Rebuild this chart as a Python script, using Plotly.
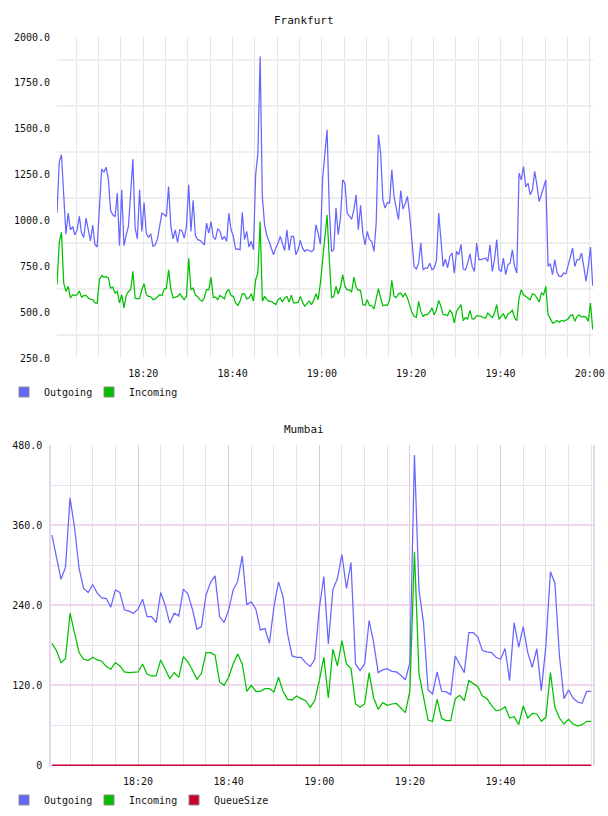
import pandas as pd
import plotly.graph_objects as go

# ---------------- data ----------------
fr_out = [1040, 1318, 1358, 1131, 925, 1040, 949, 967, 922, 947,
          1022, 931, 907, 1013, 940, 889, 974, 869, 855, 1100,
          1280, 1263, 1290, 1225, 1054, 1031, 1020, 1149, 862, 1167,
          862, 920, 967, 1149, 1334, 958, 900, 1167, 940, 1098,
          931, 907, 927, 858, 867, 898, 967, 1040, 1031, 1022,
          1185, 967, 900, 949, 880, 949, 944, 904, 967, 1194,
          940, 1110, 918, 895, 891, 876, 867, 985, 931, 993,
          907, 898, 955, 942, 895, 913, 886, 1040, 949, 913,
          844, 845, 840, 1044, 895, 940, 855, 886, 840, 1250,
          1367, 1893, 1131, 975, 916, 886, 844, 813, 849, 875,
          913, 876, 836, 949, 836, 913, 913, 813, 840, 891,
          849, 831, 840, 836, 829, 840, 976, 931, 870, 1230,
          1385, 1494, 1058, 831, 840, 1067, 922, 1013, 1221, 1203,
          1040, 1022, 1007, 1058, 1140, 949, 1082, 931, 867, 940,
          895, 886, 831, 985, 1467, 1367, 1112, 1067, 1098, 1094,
          1276, 1131, 1067, 1004, 1163, 1062, 1091, 1131, 1031, 876,
          749, 735, 767, 876, 731, 740, 740, 767, 731, 740,
          782, 1040, 895, 749, 789, 742, 804, 822, 713, 831,
          813, 870, 735, 731, 767, 818, 749, 722, 876, 786,
          786, 791, 795, 777, 867, 722, 786, 895, 731, 722,
          795, 704, 758, 767, 840, 749, 713, 1258, 1221, 1294,
          1182, 1203, 1140, 1167, 1267, 1194, 1103, 1140, 1185, 1221,
          749, 764, 704, 786, 717, 695, 695, 713, 709, 758,
          795, 849, 749, 786, 786, 822, 749, 668, 749, 855,
          644]

fr_in = [649, 880, 935, 659, 613, 640, 577, 595, 590, 595,
         616, 582, 590, 591, 577, 570, 568, 550, 548, 677,
         699, 691, 693, 687, 631, 637, 604, 613, 550, 595,
         523, 590, 613, 622, 722, 577, 572, 575, 622, 655,
         595, 586, 584, 568, 572, 584, 595, 590, 626, 629,
         731, 626, 577, 582, 586, 600, 586, 568, 586, 793,
         622, 631, 593, 584, 568, 559, 577, 624, 622, 691,
         580, 582, 568, 591, 582, 572, 613, 622, 590, 586,
         550, 537, 559, 600, 600, 572, 577, 600, 561, 677,
         713, 994, 559, 586, 568, 559, 559, 550, 541, 568,
         577, 555, 577, 586, 555, 593, 550, 550, 553, 586,
         553, 532, 544, 561, 541, 564, 600, 568, 659, 786,
         931, 1030, 786, 577, 586, 640, 599, 637, 704, 640,
         622, 622, 610, 691, 637, 619, 619, 541, 537, 568,
         537, 535, 517, 568, 628, 577, 535, 539, 537, 564,
         673, 586, 579, 600, 604, 584, 602, 577, 541, 499,
         477, 472, 559, 504, 477, 486, 486, 501, 523, 486,
         513, 564, 532, 486, 486, 481, 510, 495, 441, 504,
         523, 541, 453, 470, 463, 510, 463, 463, 481, 481,
         477, 470, 468, 495, 484, 470, 495, 541, 461, 477,
         493, 463, 490, 497, 510, 470, 453, 577, 622, 595,
         586, 581, 568, 600, 595, 577, 555, 604, 595, 640,
         486, 466, 441, 444, 455, 444, 455, 450, 459, 463,
         481, 486, 450, 477, 484, 473, 477, 473, 450, 550,
         405]

mu_out = [345, 313, 279, 297, 401, 356, 295, 265, 259, 271,
          258, 251, 250, 237, 263, 259, 233, 231, 228, 234,
          249, 223, 223, 214, 259, 240, 213, 228, 224, 264,
          257, 234, 204, 208, 255, 274, 284, 223, 214, 233,
          263, 276, 314, 241, 245, 234, 203, 205, 183, 238,
          275, 253, 197, 164, 162, 162, 154, 148, 159, 235,
          283, 182, 263, 280, 316, 265, 304, 152, 142, 152,
          217, 184, 139, 143, 145, 141, 140, 135, 128, 154,
          465, 263, 214, 113, 107, 140, 111, 110, 106, 164,
          152, 139, 199, 199, 192, 172, 170, 169, 162, 159,
          175, 127, 214, 177, 208, 169, 147, 175, 112, 179,
          290, 273, 164, 100, 113, 101, 95, 93, 111, 111]

mu_in = [183, 172, 154, 160, 228, 197, 169, 159, 157, 162,
         158, 156, 148, 144, 154, 149, 140, 139, 140, 140,
         152, 137, 134, 134, 158, 144, 130, 139, 132, 163,
         155, 143, 129, 138, 169, 169, 165, 125, 120, 132,
         152, 167, 152, 111, 120, 111, 111, 115, 115, 110,
         132, 111, 99, 98, 104, 100, 97, 87, 97, 127,
         162, 101, 174, 149, 187, 152, 145, 92, 87, 92,
         139, 101, 84, 94, 90, 92, 93, 86, 79, 112,
         320, 137, 102, 68, 66, 99, 70, 67, 67, 100,
         105, 97, 127, 122, 118, 104, 100, 90, 82, 83,
         88, 71, 73, 61, 89, 71, 78, 77, 66, 72,
         139, 87, 71, 62, 69, 62, 59, 61, 66, 66]

mu_queue = [0] * len(mu_out)

fr_start = "2013-05-14 18:00:40"
mu_start = "2013-05-14 18:01:00"
fr_time = pd.date_range(fr_start, periods=len(fr_out), freq="30s")
mu_time = pd.date_range(mu_start, periods=len(mu_out), freq="1min")

fr_yticks = [250, 500, 750, 1000, 1250, 1500, 1750, 2000]
fr_ylabels = [f"{v:.1f}" for v in fr_yticks]
mu_yticks = [0, 120, 240, 360, 480]
mu_ylabels = ["0", "120.0", "240.0", "360.0", "480.0"]
fr_xticks = ["2013-05-14 18:20", "2013-05-14 18:40", "2013-05-14 19:00",
             "2013-05-14 19:20", "2013-05-14 19:40", "2013-05-14 20:00"]
mu_xticks = fr_xticks[:5]
x_labels = ["18:20", "18:40", "19:00", "19:20", "19:40", "20:00"]

# ---------------- style ----------------
BLUE = "#6666ff"
GREEN = "#00c000"
RED = "#cc0033"
FONT = "DejaVu Sans Mono"
W, H = 608, 816

fig = go.Figure()

# Frankfurt
fig.add_trace(go.Scatter(x=fr_time, y=fr_out, mode="lines", line=dict(color=BLUE, width=1.25),
                         xaxis="x", yaxis="y", showlegend=False, hoverinfo="skip"))
fig.add_trace(go.Scatter(x=fr_time, y=fr_in, mode="lines", line=dict(color=GREEN, width=1.25),
                         xaxis="x", yaxis="y", showlegend=False, hoverinfo="skip"))
# Mumbai
fig.add_trace(go.Scatter(x=mu_time, y=mu_out, mode="lines", line=dict(color=BLUE, width=1.25),
                         xaxis="x2", yaxis="y2", showlegend=False, hoverinfo="skip"))
fig.add_trace(go.Scatter(x=mu_time, y=mu_in, mode="lines", line=dict(color=GREEN, width=1.25),
                         xaxis="x2", yaxis="y2", showlegend=False, hoverinfo="skip"))
fig.add_trace(go.Scatter(x=mu_time, y=mu_queue, mode="lines", line=dict(color=RED, width=2),
                         xaxis="x2", yaxis="y2", showlegend=False, hoverinfo="skip"))

# legend entries (square swatches)
def swatch(name, color, legend, xa, ya, lw=None):
    return go.Scatter(x=[None], y=[None], mode="markers", name=name, legend=legend,
                      legendwidth=lw,
                      marker=dict(symbol="square", size=10, color=color,
                                  line=dict(color="#888888", width=1)),
                      xaxis=xa, yaxis=ya)

fig.add_trace(swatch("Outgoing", BLUE, "legend", "x", "y"))
fig.add_trace(swatch("Incoming", GREEN, "legend", "x", "y", 60))
fig.add_trace(swatch("Outgoing", BLUE, "legend2", "x2", "y2"))
fig.add_trace(swatch("Incoming", GREEN, "legend2", "x2", "y2"))
fig.add_trace(swatch("QueueSize", RED, "legend2", "x2", "y2", 70))

tickfont = dict(family=FONT, size=10, color="#111111")

fig.update_layout(
    template="none",
    width=W, height=H, autosize=False,
    margin=dict(l=0, r=0, t=0, b=0, autoexpand=False),
    paper_bgcolor="white", plot_bgcolor="white",
    font=dict(family=FONT, size=10, color="#111111"),
    xaxis=dict(domain=[57 / W, 593 / W], anchor="y", type="date", automargin=False,
               range=["2013-05-14 18:00:40", "2013-05-14 20:00:44"],
               tickmode="array", tickvals=fr_xticks, ticktext=x_labels,
               showgrid=True, gridcolor="#e6e6e6", gridwidth=1,
               minor=dict(tick0="2013-05-14 18:00", dtick=300000, showgrid=True,
                          gridcolor="#e6e6e6", gridwidth=1, ticks=""),
               ticks="", showline=False, zeroline=False, tickfont=tickfont,
               ticklabelstandoff=8),
    yaxis=dict(domain=[1 - 358 / H, 1 - 37 / H], anchor="x", automargin=False,
               range=[250, 2000], tickmode="array", tickvals=fr_yticks, ticktext=fr_ylabels,
               showgrid=False,
               minor=dict(tickmode="linear", tick0=125, dtick=250, showgrid=True,
                          gridcolor="#eeeeee", gridwidth=1.6, ticks=""),
               ticks="", showline=False, zeroline=False, tickfont=tickfont,
               ticklabelstandoff=6),
    xaxis2=dict(domain=[51 / W, 593.3 / W], anchor="y2", type="date", automargin=False,
                range=["2013-05-14 18:00:48", "2013-05-14 20:00:28"],
                tickmode="array", tickvals=mu_xticks, ticktext=x_labels[:5],
                showgrid=True, gridcolor="#dcc6e0", gridwidth=1,
                minor=dict(tick0="2013-05-14 18:00", dtick=300000, showgrid=True,
                           gridcolor="#e8e2ea", gridwidth=1, ticks=""),
                ticks="", showline=False, zeroline=False, tickfont=tickfont,
                ticklabelstandoff=8),
    yaxis2=dict(domain=[1 - 766 / H, 1 - 445 / H], anchor="x2", automargin=False,
                range=[-0.9, 480], tickmode="array", tickvals=mu_yticks, ticktext=mu_ylabels,
                showgrid=True, gridcolor="#efd8ef", gridwidth=1.5,
                minor=dict(tickmode="linear", tick0=0, dtick=60, showgrid=True,
                           gridcolor="#e8e2ea", gridwidth=1, ticks=""),
                ticks="", showline=True, mirror=True, linecolor="#e6d6ec", linewidth=1.5,
                zeroline=False, tickfont=tickfont, ticklabelstandoff=5),
    legend=dict(orientation="h", x=4 / W, xanchor="left", y=1 - 392 / H, yanchor="middle",
                entrywidth=40, itemwidth=30, font=dict(family=FONT, size=10, color="#111111"),
                bgcolor="rgba(0,0,0,0)", borderwidth=0),
    legend2=dict(orientation="h", x=4 / W, xanchor="left", y=1 - 800 / H, yanchor="middle",
                 entrywidth=40, itemwidth=30, font=dict(family=FONT, size=10, color="#111111"),
                 bgcolor="rgba(0,0,0,0)", borderwidth=0),
    annotations=[
        dict(text="Frankfurt", x=0.5, y=1 - 20 / H, xref="paper", yref="paper",
             showarrow=False, font=dict(family=FONT, size=11, color="#111111"),
             xanchor="center", yanchor="middle"),
        dict(text="Mumbai", x=0.5, y=1 - 429 / H, xref="paper", yref="paper",
             showarrow=False, font=dict(family=FONT, size=11, color="#111111"),
             xanchor="center", yanchor="middle"),
    ],
    hovermode=False,
)

fig.write_html("out.html")
